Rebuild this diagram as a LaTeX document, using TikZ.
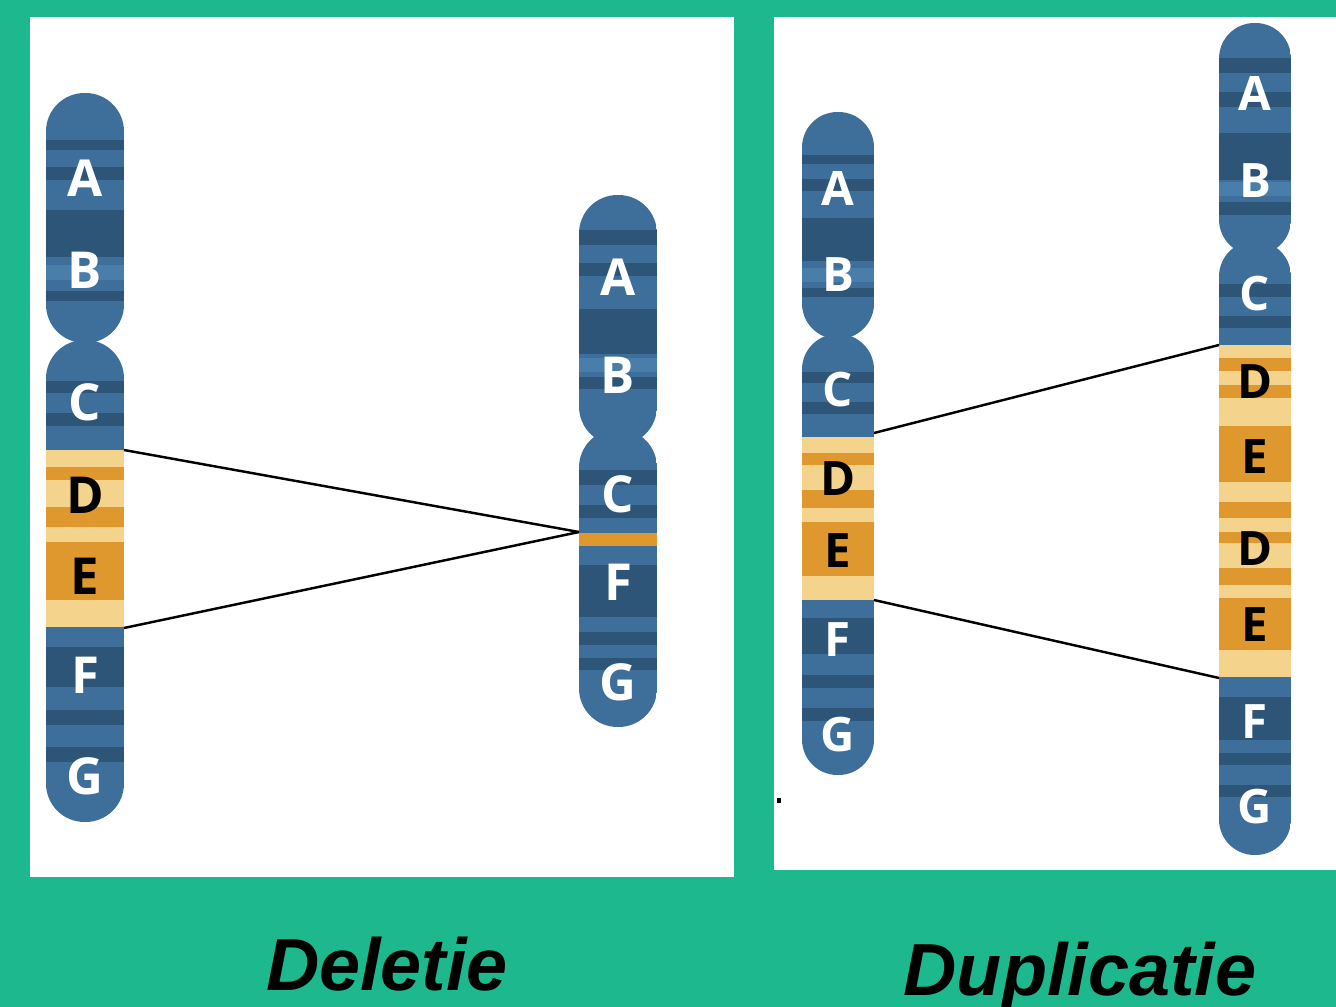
\documentclass[tikz,border=0pt]{standalone}
\usepackage{fontspec}
\setmainfont{Liberation Sans}
\newfontfamily\lblfont{Open Sans}
\definecolor{bggreen}{RGB}{30,184,142}
\definecolor{chrblue}{RGB}{62,111,155}
\definecolor{chrdark}{RGB}{45,85,120}
\definecolor{chrlight}{RGB}{74,126,170}
\definecolor{bandlight}{RGB}{244,212,140}
\definecolor{bandorange}{RGB}{222,152,46}
\tikzset{
  lbl/.style={text=white, inner sep=0pt, font=\lblfont\bfseries\fontsize{29}{29}\selectfont},
  lblsm/.style={lbl, font=\lblfont\bfseries\fontsize{27}{27}\selectfont},
  lbldk/.style={text=black},
  link/.style={line width=1.4pt, black},
  title/.style={anchor=base, inner sep=0pt, font=\bfseries\itshape\fontsize{42}{42}\selectfont}
}
% arm of a chromosome: left, right, top, bottom, corner radius
\newcommand{\chrarm}[5]{%
  \clip[rounded corners=#5] (#1,#3) rectangle (#2,#4);
  \fill[chrblue] (#1,#3) rectangle (#2,#4);}
\begin{document}
\begin{tikzpicture}[x=0.02cm, y=-0.02cm]
\useasboundingbox (0,0) rectangle (1336,1007);
\fill[bggreen] (0,0) rectangle (1336,1007);
\fill[white] (30,17) rectangle (734,877);
\fill[white] (774,17) rectangle (1336,870);
\fill[black] (777,798) rectangle (781,803);

% deletie, normal chromosome
\begin{scope}
\chrarm{46}{124}{93}{343}{0.77cm}
\foreach \a/\b in {140/150,167/180,210/257,291/301} \fill[chrdark] (46,\a) rectangle (124,\b);
\fill[chrlight] (46,265) rectangle (124,280);
\end{scope}
\begin{scope}
\chrarm{46}{124}{340}{822}{0.77cm}
\foreach \a/\b in {381/393,413/426,647/687,710/725,747/762} \fill[chrdark] (46,\a) rectangle (124,\b);
\fill[bandlight] (46,450) rectangle (124,627);
\foreach \a/\b in {467/480,507/527,542/600} \fill[bandorange] (46,\a) rectangle (124,\b);
\end{scope}
\node[lbl] (dA) at (85,178) {A};
\node[lbl] (dB) at (85,270) {B};
\node[lbl] (dC) at (85,402) {C};
\node[lbl,lbldk] (dD) at (85,495) {D};
\node[lbl,lbldk] (dE) at (85,576) {E};
\node[lbl] (dF) at (85,675) {F};
\node[lbl] (dG) at (85,776) {G};
\coordinate (dtop) at (124,450);
\coordinate (dbot) at (124,628);

% deletie, mutant chromosome
\begin{scope}
\chrarm{579}{657}{195}{445}{0.77cm}
\foreach \a/\b in {230/245,263/276,309/354,377/389} \fill[chrdark] (579,\a) rectangle (657,\b);
\fill[chrlight] (579,358) rectangle (657,372);
\end{scope}
\begin{scope}
\chrarm{579}{657}{429}{727}{0.77cm}
\foreach \a/\b in {470/485,505/518,565/617,632/645,658/670} \fill[chrdark] (579,\a) rectangle (657,\b);
\fill[bandorange] (579,533) rectangle (657,546);
\end{scope}
\node[lbl] (mA) at (618,277) {A};
\node[lbl] (mB) at (618,375) {B};
\node[lbl] (mC) at (618,494) {C};
\node[lbl] (mF) at (618,582) {F};
\node[lbl] (mG) at (618,682) {G};
\coordinate (mjoin) at (579,532);

\draw[link] (dtop) -- (mjoin);
\draw[link] (dbot) -- (mjoin);

% duplicatie, normal chromosome
\begin{scope}
\chrarm{802}{874}{112}{339}{0.71cm}
\foreach \a/\b in {155/164,179/191,218/261,288/297} \fill[chrdark] (802,\a) rectangle (874,\b);
\fill[chrlight] (802,268) rectangle (874,282);
\end{scope}
\begin{scope}
\chrarm{802}{874}{334}{775}{0.71cm}
\foreach \a/\b in {372/383,402/414,618/654,675/688,708/721} \fill[chrdark] (802,\a) rectangle (874,\b);
\fill[bandlight] (802,437) rectangle (874,600);
\foreach \a/\b in {453/465,490/508,522/576} \fill[bandorange] (802,\a) rectangle (874,\b);
\end{scope}
\node[lblsm] (nA) at (838,188) {A};
\node[lblsm] (nB) at (838,275) {B};
\node[lblsm] (nC) at (838,390) {C};
\node[lblsm,lbldk] (nD) at (838,479) {D};
\node[lblsm,lbldk] (nE) at (838,551) {E};
\node[lblsm] (nF) at (838,640) {F};
\node[lblsm] (nG) at (838,735) {G};
\coordinate (ntop) at (874,433);
\coordinate (nbot) at (874,600);

% duplicatie, mutant chromosome
\begin{scope}
\chrarm{1219}{1291}{23}{255}{0.71cm}
\foreach \a/\b in {58/73,92/107,133/180,202/215} \fill[chrdark] (1219,\a) rectangle (1291,\b);
\fill[chrlight] (1219,182) rectangle (1291,196);
\end{scope}
\begin{scope}
\chrarm{1219}{1291}{241}{855}{0.71cm}
\foreach \a/\b in {284/297,316/328,697/740,753/765,785/797} \fill[chrdark] (1219,\a) rectangle (1291,\b);
\fill[bandlight] (1219,345) rectangle (1291,677);
\foreach \a/\b in {358/371,385/398,426/482,502/518,532/543,568/585,598/650} \fill[bandorange] (1219,\a) rectangle (1291,\b);
\end{scope}
\node[lblsm] (uA) at (1255,93) {A};
\node[lblsm] (uB) at (1255,181) {B};
\node[lblsm] (uC) at (1255,294) {C};
\node[lblsm,lbldk] (uD1) at (1255,382) {D};
\node[lblsm,lbldk] (uE1) at (1255,457) {E};
\node[lblsm,lbldk] (uD2) at (1255,549) {D};
\node[lblsm,lbldk] (uE2) at (1255,625) {E};
\node[lblsm] (uF) at (1255,722) {F};
\node[lblsm] (uG) at (1255,807) {G};
\coordinate (utop) at (1219,345);
\coordinate (ubot) at (1219,678);

\draw[link] (ntop) -- (utop);
\draw[link] (nbot) -- (ubot);

\node[title] (tdel) at (387,990) {Deletie};
\node[title] (tdup) at (1080,995) {Duplicatie};
\end{tikzpicture}
\end{document}
